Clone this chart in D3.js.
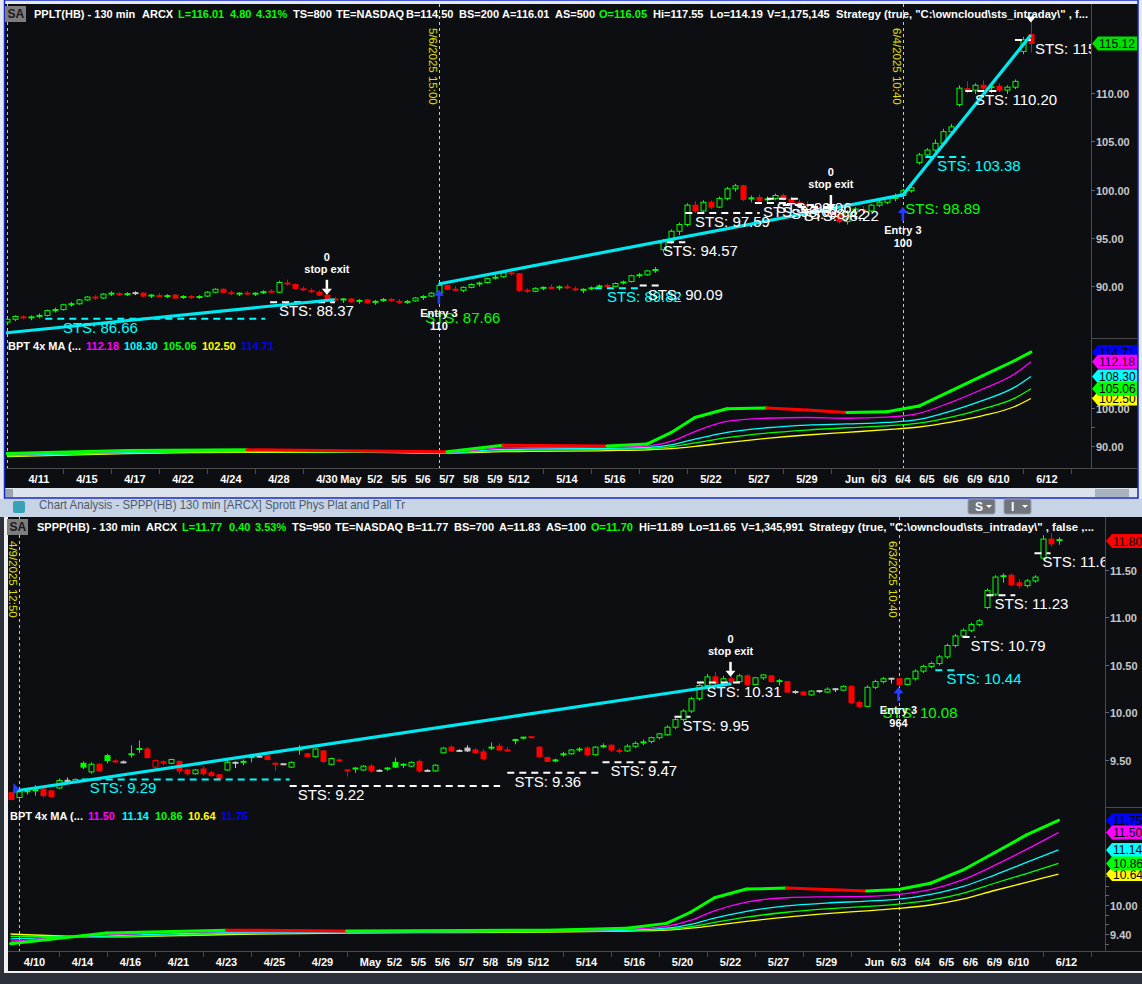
<!DOCTYPE html>
<html><head><meta charset="utf-8">
<script src="https://cdn.jsdelivr.net/npm/d3@7/dist/d3.min.js"></script>
<style>html,body{margin:0;padding:0;background:#c8d5e7;overflow:hidden}
text{font-family:"Liberation Sans",Arial,sans-serif}</style>
</head><body>
<svg id="c" width="1142" height="984"></svg>
<script>
// ================= DATA =================
// PPLT 130-min candles [open, high, low, close]; bar 0 = 4/9 last bar
const ppltFirstBar = 0;
const pplt = [
[86.3,86.7,86.1,86.6],[86.6,87.0,86.4,86.9],[86.9,87.0,86.6,86.7],[86.7,87.0,86.5,86.9],[86.9,87.2,86.7,87.0],
[87.0,87.6,86.9,87.5],[87.5,87.8,87.3,87.6],[87.6,88.2,87.5,88.1],[88.1,88.4,87.9,88.2],[88.2,88.7,88.1,88.6],
[88.6,89.0,88.5,88.9],[88.9,89.1,88.6,88.8],[88.8,89.3,88.7,89.2],[89.2,89.5,89.0,89.3],[89.3,89.4,89.0,89.1],
[89.1,89.4,89.0,89.3],[89.3,89.5,89.1,89.3],[89.3,89.4,88.9,89.0],[89.0,89.2,88.8,89.1],[89.1,89.3,88.9,88.9],
[88.9,89.2,88.8,89.1],[89.1,89.2,88.7,88.8],[88.8,89.1,88.7,89.0],[89.0,89.1,88.7,88.8],[88.8,89.1,88.7,89.0],
[89.0,89.5,88.9,89.4],[89.4,89.8,89.3,89.7],[89.7,89.8,89.3,89.4],[89.4,89.6,89.1,89.2],[89.2,89.4,89.0,89.3],
[89.3,89.5,89.1,89.2],[89.2,89.4,89.0,89.3],[89.3,89.6,89.2,89.5],[89.5,89.7,89.3,89.4],[89.4,90.6,89.3,90.4],
[90.4,90.7,90.1,90.2],[90.2,90.3,89.7,89.8],[89.8,90.0,89.5,89.6],[89.6,89.8,89.3,89.4],[89.4,89.6,89.0,89.1],
[89.1,89.3,88.6,88.7],[88.7,88.9,88.4,88.6],[88.6,88.8,88.3,88.7],[88.7,88.8,88.3,88.4],[88.4,88.7,88.2,88.6],
[88.6,88.7,88.2,88.3],[88.3,88.6,88.1,88.5],[88.5,88.8,88.4,88.7],[88.7,88.8,88.4,88.5],[88.5,88.7,88.2,88.3],
[88.3,88.6,88.2,88.5],[88.5,88.9,88.4,88.8],[88.8,89.1,88.6,89.0],[89.0,89.4,88.9,89.3],[89.3,90.3,89.2,90.1],
[90.1,90.2,89.6,89.7],[89.7,90.0,89.5,89.6],[89.6,90.0,89.4,89.9],[89.9,90.3,89.8,90.2],[90.2,90.5,90.0,90.4],
[90.4,90.9,90.3,90.8],[90.8,91.2,90.7,91.0],[91.0,91.5,90.9,91.4],[91.4,91.6,91.1,91.3],[91.3,91.4,89.4,89.6],
[89.6,89.8,89.3,89.5],[89.5,89.9,89.4,89.8],[89.8,90.0,89.6,89.9],[89.9,90.2,89.7,89.8],[89.8,90.1,89.6,90.0],
[90.0,90.2,89.7,89.8],[89.8,90.0,89.5,89.6],[89.6,89.8,89.3,89.7],[89.7,90.0,89.6,89.9],[89.9,90.2,89.8,90.1],
[90.1,90.3,89.9,90.0],[90.0,90.4,89.9,90.3],[90.3,90.6,90.2,90.5],[90.5,91.2,90.4,91.1],[91.1,91.4,90.9,91.2],
[91.2,91.7,91.1,91.6],[91.6,92.0,91.4,91.8],[93.8,94.9,93.5,94.7],[94.7,95.9,94.4,95.7],[95.7,96.6,95.3,96.4],
[96.4,98.6,96.2,98.4],[98.4,98.8,97.6,97.8],[97.8,98.9,97.7,98.7],[98.7,98.9,98.0,98.2],[98.2,99.3,98.1,99.1],
[99.1,100.3,98.9,100.1],[100.1,100.6,99.8,100.4],[100.4,100.5,98.8,99.0],[99.0,99.4,98.7,99.2],[99.2,99.5,98.8,98.9],
[98.9,99.3,98.7,99.1],[99.1,99.6,98.9,99.4],[99.4,99.6,98.9,99.0],[99.0,99.3,98.6,98.7],[98.7,99.0,98.3,98.5],
[98.5,98.8,98.1,98.3],[98.3,98.6,97.9,98.0],[98.0,98.3,97.5,97.7],[97.7,98.0,97.2,97.4],[97.4,97.6,96.5,96.7],
[96.7,97.9,96.4,97.7],[97.7,98.2,97.4,98.0],[98.0,98.3,97.6,97.8],[97.8,98.5,97.7,98.4],[98.4,98.9,98.2,98.7],
[98.7,99.3,98.5,99.1],[99.1,99.6,98.8,99.4],[99.4,100.1,99.2,99.9],[99.9,100.4,99.7,100.2],[102.8,103.8,102.6,103.6],
[103.6,104.3,103.3,104.1],[104.1,105.2,103.9,104.8],[104.8,106.3,104.6,106.0],[106.0,106.8,105.7,106.5],[108.8,110.8,108.6,110.5],
[110.5,111.2,110.0,110.3],[110.3,111.0,109.9,110.8],[110.8,111.3,110.3,110.5],[110.5,110.9,110.0,110.7],[110.7,111.0,110.1,110.3],
[110.3,110.8,109.9,110.6],[110.6,111.4,110.4,111.2],[114.3,115.8,114.0,115.5],[116.05,117.55,114.19,115.12]
];
// SPPP 130-min candles [open, high, low, close]; bar -2 = 4/9 first bar
const spppFirstBar = -2;
const sppp = [
[9.15,9.16,9.07,9.08],[9.10,9.18,9.07,9.16],[9.16,9.19,9.13,9.17],[9.17,9.23,9.12,9.18],[9.19,9.20,9.10,9.12],
[9.17,9.18,9.10,9.11],[9.20,9.30,9.19,9.28],[9.27,9.31,9.24,9.28],[9.26,9.30,9.25,9.29],[9.46,9.48,9.40,9.42],
[9.37,9.47,9.35,9.45],[9.45,9.46,9.37,9.38],[9.54,9.56,9.46,9.49],[9.49,9.50,9.46,9.47],[9.47,9.49,9.46,9.47],
[9.55,9.65,9.52,9.56],[9.60,9.70,9.57,9.62],[9.61,9.63,9.51,9.52],[9.42,9.50,9.39,9.49],[9.47,9.49,9.44,9.47],
[9.46,9.51,9.45,9.50],[9.48,9.49,9.35,9.38],[9.39,9.40,9.33,9.35],[9.35,9.40,9.34,9.39],[9.40,9.43,9.33,9.35],
[9.36,9.38,9.32,9.33],[9.34,9.35,9.29,9.30],[9.39,9.50,9.38,9.47],[9.46,9.48,9.41,9.47],[9.47,9.50,9.44,9.48],
[9.52,9.56,9.47,9.53],[9.53,9.54,9.52,9.53],[9.54,9.55,9.49,9.50],[9.46,9.47,9.38,9.45],[9.45,9.46,9.44,9.45],
[9.42,9.48,9.41,9.47],[9.60,9.65,9.55,9.61],[9.56,9.57,9.52,9.53],[9.53,9.62,9.52,9.61],[9.59,9.60,9.46,9.48],
[9.45,9.52,9.44,9.51],[9.50,9.51,9.47,9.48],[9.39,9.40,9.32,9.38],[9.40,9.42,9.36,9.41],[9.39,9.44,9.38,9.43],
[9.43,9.45,9.36,9.38],[9.38,9.40,9.37,9.38],[9.40,9.42,9.38,9.41],[9.47,9.52,9.41,9.42],[9.44,9.46,9.41,9.45],
[9.43,9.48,9.42,9.47],[9.48,9.50,9.36,9.38],[9.38,9.40,9.37,9.38],[9.38,9.45,9.37,9.44],[9.57,9.63,9.56,9.62],
[9.63,9.65,9.58,9.59],[9.59,9.61,9.58,9.59],[9.62,9.65,9.58,9.59],[9.60,9.62,9.56,9.57],[9.58,9.61,9.49,9.51],
[9.62,9.68,9.60,9.63],[9.64,9.67,9.59,9.60],[9.60,9.63,9.59,9.59],[9.70,9.72,9.66,9.71],[9.72,9.74,9.71,9.74],
[9.74,9.74,9.72,9.73],[9.63,9.64,9.52,9.53],[9.52,9.53,9.47,9.48],[9.48,9.51,9.47,9.50],
[9.55,9.58,9.53,9.56],[9.56,9.61,9.55,9.60],[9.60,9.63,9.58,9.61],[9.62,9.64,9.53,9.55],[9.55,9.64,9.54,9.63],
[9.63,9.67,9.62,9.65],[9.65,9.66,9.58,9.60],[9.60,9.62,9.56,9.58],[9.59,9.66,9.58,9.64],[9.64,9.69,9.62,9.67],
[9.67,9.71,9.65,9.69],[9.69,9.74,9.67,9.73],[9.73,9.78,9.71,9.77],[9.76,9.86,9.75,9.84],[9.84,9.94,9.82,9.92],
[9.92,10.03,9.90,10.01],[10.01,10.16,9.99,10.14],[10.14,10.30,10.12,10.28],[10.28,10.40,10.26,10.37],[10.37,10.42,10.28,10.30],
[10.30,10.38,10.27,10.35],[10.35,10.38,10.29,10.32],[10.32,10.40,10.31,10.38],[10.38,10.40,10.27,10.29],[10.29,10.37,10.28,10.36],
[10.36,10.40,10.34,10.39],[10.38,10.39,10.31,10.32],[10.32,10.35,10.28,10.33],[10.32,10.33,10.20,10.21],[10.21,10.23,10.19,10.21],
[10.21,10.22,10.17,10.18],[10.18,10.23,10.17,10.22],[10.22,10.23,10.20,10.22],[10.21,10.26,10.20,10.24],[10.24,10.25,10.21,10.24],
[10.23,10.28,10.22,10.27],[10.27,10.28,10.08,10.10],[10.10,10.12,10.04,10.06],[10.06,10.28,10.05,10.26],[10.26,10.34,10.24,10.32],
[10.32,10.37,10.30,10.35],[10.35,10.36,10.30,10.35],[10.35,10.36,10.27,10.29],[10.29,10.36,10.28,10.35],[10.35,10.45,10.33,10.43],
[10.43,10.50,10.41,10.48],[10.48,10.53,10.46,10.51],[10.51,10.60,10.49,10.58],[10.58,10.72,10.56,10.70],[10.70,10.82,10.68,10.80],
[10.80,10.88,10.78,10.86],[10.86,10.94,10.84,10.92],[10.92,10.98,10.90,10.96],[11.10,11.30,11.08,11.28],[11.24,11.44,11.22,11.42],
[11.42,11.46,11.36,11.44],[11.44,11.46,11.32,11.34],[11.36,11.40,11.30,11.33],[11.33,11.40,11.31,11.38],[11.38,11.44,11.36,11.42],
[11.62,11.86,11.60,11.82],[11.82,11.88,11.74,11.77],[11.82,11.84,11.76,11.80]
];

// Date axis labels and the bar index of the first bar of each labelled day
const ppltDayLabels = ["4/11","4/15","4/17","4/22","4/24","4/28","4/30","May","5/2","5/5","5/6","5/7","5/8","5/9","5/12","5/14","5/16","5/20","5/22","5/27","5/29","Jun","6/3","6/4","6/5","6/6","6/9","6/10","6/12"];
const ppltDayBars   = [4,10,16,22,28,34,40,43,46,49,52,55,58,61,64,70,76,82,88,94,100,106,109,112,115,118,121,124,130];
const ppltTickBars  = [7,13,19,25,31,37,67,73,79,85,91,97,103,109,127,133];
const spppDayLabels = ["4/10","4/14","4/16","4/21","4/23","4/25","4/29","May","5/2","5/5","5/6","5/7","5/8","5/9","5/12","5/14","5/16","5/20","5/22","5/27","5/29","Jun","6/3","6/4","6/5","6/6","6/9","6/10","6/12"];
const spppDayBars   = [1,7,13,19,25,31,37,43,46,49,52,55,58,61,64,70,76,82,88,94,100,106,109,112,115,118,121,124,130];
const spppTickBars  = [4,10,16,22,28,34,40,67,73,79,85,91,97,103,127,133];

// Price axis ticks
const ppltPriceTicks = [90,95,100,105,110];
const ppltIndTicks = [90,100];
const ppltIndMinor = [95,103];
const spppPriceTicks = [9.5,10,10.5,11,11.5];
const spppIndTicks = [9.4,10.0];
const spppIndMinor = [9.2,9.6,9.8,10.2,10.4,10.6];

// BPT 4x MA indicator (knot bar index, value)
const ppltMaBars = [0,15,30,45,55,62,75,80,83,86,90,95,100,105,110,114,118,122,126,128];
const ppltMaTop  = [88.0,88.8,89.0,88.7,88.5,90.2,90.0,90.5,93.5,97.5,99.8,100.0,99.5,98.8,99.0,100.5,104.5,108.5,112.5,114.71];
const ppltMaMag  = [87.8,88.6,88.9,88.6,88.4,89.5,89.7,90.0,91.2,93.8,96.5,97.3,97.5,97.3,97.6,98.6,101.5,105.0,109.0,112.18];
const ppltMaCyan = [87.6,88.4,88.7,88.5,88.3,89.1,89.4,89.6,90.3,91.8,93.6,94.8,95.5,95.8,96.2,97.0,99.2,102.0,105.5,108.30];
const ppltMaGrn  = [87.4,88.2,88.5,88.4,88.2,88.8,89.1,89.3,89.8,90.8,92.2,93.4,94.2,94.8,95.3,96.0,97.6,99.8,102.6,105.06];
const ppltMaYel  = [87.2,88.0,88.3,88.3,88.1,88.5,88.8,89.0,89.3,89.9,90.9,92.0,92.9,93.6,94.3,95.0,96.3,98.0,100.4,102.50];
const spppMaBars = [-2,10,25,40,55,65,75,80,83,86,90,95,100,105,109,113,117,121,125,129];
const spppMaTop  = [9.20,9.42,9.48,9.46,9.47,9.48,9.52,9.62,9.85,10.15,10.33,10.35,10.32,10.29,10.32,10.45,10.72,11.08,11.45,11.75];
const spppMaMag  = [9.25,9.38,9.45,9.45,9.45,9.47,9.50,9.56,9.68,9.88,10.06,10.15,10.17,10.18,10.22,10.32,10.52,10.82,11.15,11.50];
const spppMaCyan = [9.30,9.36,9.43,9.44,9.45,9.46,9.48,9.52,9.60,9.73,9.87,9.98,10.04,10.08,10.12,10.22,10.38,10.62,10.88,11.14];
const spppMaGrn  = [9.35,9.35,9.41,9.43,9.44,9.45,9.47,9.50,9.55,9.64,9.75,9.85,9.92,9.97,10.02,10.10,10.24,10.45,10.65,10.86];
const spppMaYel  = [9.40,9.34,9.39,9.42,9.43,9.44,9.46,9.48,9.52,9.58,9.66,9.75,9.82,9.88,9.93,10.00,10.12,10.30,10.47,10.64];

// Trend lines [bar1, price1, bar2, price2]
const ppltTrend = [[0,85.21,40.8,88.62],[54.1,90.27,112,99.46],[112,99.46,127.9,115.89]];
const spppTrend = [[-1.44,9.168,87.9,10.295]];

// STS stops [startBar, endBar (null = no dashes), value, colour, labelBar]
const ppltSTS = [
 [4.8,32.3,86.66,'c',7.0],[32.9,41,88.37,'w',34],[null,null,87.66,'g',52.3],
 [73.5,79.1,89.82,'c',75],[79.1,81.6,90.09,'w',80.1],[81,84.8,94.57,'w',82],
 [84.8,94.1,97.59,'w',86],[93.5,98,98.62,'w',94.5],[95,99,99.06,'w',96.2],
 [97,101,98.42,'w',98.0],[99,103,98.22,'w',99.6],
 [null,null,98.89,'g',112.3],[114.8,119.8,103.38,'c',116.3],[119.8,124.1,110.20,'w',121],
 [126,128,115.47,'w',128.5]
];
const spppSTS = [
 [6.9,32.9,9.29,'c',7.9],[32.9,59.2,9.22,'w',33.9],[60.1,71.7,9.36,'w',61],
 [72,80.4,9.47,'w',73],[81,83,9.95,'w',82],[83.8,89.2,10.31,'w',85],
 [null,null,10.08,'g',107],[113.6,116,10.44,'c',115],[117,118.6,10.79,'w',118],
 [120,123.6,11.23,'w',121],[126,128,11.67,'w',127]
];
// Strategy events: stop exits [bar, price at arrow tip], entries [bar, price, qty]
const ppltExits = [[40,89.13],[103,97.9]];
const ppltEntries = [[54,89.65,'110'],[112,98.22,'100']];
const spppExits = [[88,10.37]];
const spppEntries = [[109,10.26,'964']];
// signal markers: white down triangle [bar, price], small blue start marker [bar, price]
const ppltSignal = [[128,117.9]];
const spppStart = [[-1.4,9.19]];
// Vertical session markers [bar, label]
const ppltMarks = [[0,''],[54,'5/6/2025 15:00'],[112,'6/4/2025 10:40']];
const spppMarks = [[-1,'4/9/2025 12:50'],[109,'6/3/2025 10:40']];

// Header texts [text, x, colour key]
const ppltHeader = [["PPLT(HB) - 130 min",34,'w'],["ARCX",142,'w'],["L=116.01",178,'g'],["4.80",230,'g'],["4.31%",256,'g'],["TS=800",293,'w'],["TE=NASDAQ",336,'w'],["B=114.50",406,'w'],["BS=200",459,'w'],["A=116.01",502,'w'],["AS=500",555,'w'],["O=116.05",599,'g'],["Hi=117.55",653,'w'],["Lo=114.19",710,'w'],["V=1,175,145",767,'w'],["Strategy (true, \"C:\\owncloud\\sts_intraday\\\" , f...",836,'w']];
const spppHeader = [["SPPP(HB) - 130 min",37,'w'],["ARCX",146,'w'],["L=11.77",182,'g'],["0.40",229,'g'],["3.53%",255,'g'],["TS=950",292,'w'],["TE=NASDAQ",335,'w'],["B=11.77",407,'w'],["BS=700",454,'w'],["A=11.83",499,'w'],["AS=100",546,'w'],["O=11.70",591,'g'],["Hi=11.89",639,'w'],["Lo=11.65",689,'w'],["V=1,345,991",741,'w'],["Strategy (true, \"C:\\owncloud\\sts_intraday\\\" , false ,...",809,'w']];
const ppltMaLegend = [["112.18",'m'],["108.30",'c'],["105.06",'g'],["102.50",'y'],["114.71",'b']];
const spppMaLegend = [["11.50",'m'],["11.14",'c'],["10.86",'g'],["10.64",'y'],["11.75",'b']];
const ppltLast = 115.12, spppLast = 11.80;

// ================= DRAWING =================
const BG = '#0d0e12';
const COL = {w:'#ffffff', g:'#00ff00', c:'#00ffff', m:'#ff00ff', y:'#ffff00', b:'#0000ff', r:'#ff0000'};
const UP = '#00ff00', DN = '#ff0000', GR = '#c8c8c8';
const svg = d3.select('#c');
const defs = svg.append('defs');

svg.append('rect').attr('width',1142).attr('height',984).attr('fill','#c8d5e7');

function panel(o){
  const x = d3.scaleLinear().domain([0,1]).range([o.x0, o.x0+8]);
  const y = d3.scaleLinear().domain(o.pDom).range(o.pRng);
  const yi = d3.scaleLinear().domain(o.iDom).range(o.iRng);
  const cid = 'clip'+o.id;
  defs.append('clipPath').attr('id',cid).append('rect')
    .attr('x',o.left).attr('y',o.top).attr('width',o.axisX-o.left).attr('height',o.axisY-o.top);
  const root = svg.append('g');
  const g = root.append('g').attr('clip-path',`url(#${cid})`);

  o.marks.forEach(([k,lab])=>{
    const xx = Math.round(x(k))+0.5;
    g.append('line').attr('x1',xx).attr('x2',xx).attr('y1',o.top).attr('y2',o.axisY)
      .attr('stroke','#e0e000').attr('stroke-dasharray','3,3');
    if(lab) root.append('text').attr('transform',`translate(${xx-11},${o.top+24}) rotate(90)`)
      .attr('fill','#e0e000').attr('font-size',11.5).text(lab);
  });

  const maLine = (vals)=>d3.line().x((v,i)=>x(o.maBars[i])).y(v=>yi(v)).curve(d3.curveMonotoneX)(vals);
  [[o.ma.yel,COL.y],[o.ma.grn,COL.g],[o.ma.cyan,COL.c],[o.ma.mag,COL.m]].forEach(([v,c])=>{
    g.append('path').attr('d',maLine(v)).attr('fill','none').attr('stroke',c).attr('stroke-width',1.3);
  });
  for(let i=0;i<o.ma.top.length-1;i++){
    const up = o.ma.top[i+1] >= o.ma.top[i];
    g.append('line').attr('x1',x(o.maBars[i])).attr('y1',yi(o.ma.top[i]))
      .attr('x2',x(o.maBars[i+1])).attr('y2',yi(o.ma.top[i+1]))
      .attr('stroke', up? COL.g : COL.r).attr('stroke-width',3).attr('stroke-linecap','round');
  }

  o.candles.forEach((d,i)=>{
    const [op,hi,lo,cl] = d; const k = o.first+i;
    const prev = i>0 ? o.candles[i-1][3] : op;
    const col = cl>prev ? UP : (cl<prev ? DN : GR);
    const cx = Math.round(x(k))+0.5;
    g.append('line').attr('x1',cx).attr('x2',cx).attr('y1',y(hi)).attr('y2',y(lo)).attr('stroke',col);
    const yt = y(Math.max(op,cl)), yb = y(Math.min(op,cl));
    if (yb-yt < 2) {
      g.append('line').attr('x1',cx-3).attr('x2',cx+3).attr('y1',(yt+yb)/2).attr('y2',(yt+yb)/2).attr('stroke',col).attr('stroke-width',2);
    } else {
      g.append('rect').attr('x',cx-2.5).attr('y',yt).attr('width',5).attr('height',yb-yt)
        .attr('fill', cl>op ? BG : col).attr('stroke',col);
    }
  });

  o.sts.forEach(([k1,k2,v,c,kl])=>{
    if(k1!==null) g.append('line').attr('x1',x(k1)).attr('x2',x(k2)).attr('y1',y(v)).attr('y2',y(v))
      .attr('stroke',COL[c]).attr('stroke-width',2).attr('stroke-dasharray','7,5');
  });
  o.trend.forEach(([k1,p1,k2,p2])=>{
    g.append('line').attr('x1',x(k1)).attr('y1',y(p1)).attr('x2',x(k2)).attr('y2',y(p2))
      .attr('stroke','#00e8f0').attr('stroke-width',3.2).attr('stroke-linecap','round');
  });
  o.sts.forEach(([k1,k2,v,c,kl])=>{
    g.append('text').attr('x',x(kl)).attr('y',y(v)+14).attr('fill',COL[c]).attr('font-size',15).text('STS: '+v.toFixed(2));
  });

  o.exits.forEach(([k,p])=>{
    const xx=x(k), yy=y(p);
    g.append('line').attr('x1',xx).attr('x2',xx).attr('y1',yy-15).attr('y2',yy-5).attr('stroke','#fff').attr('stroke-width',2.5);
    g.append('path').attr('d',`M${xx-5},${yy-6}L${xx+5},${yy-6}L${xx},${yy}Z`).attr('fill','#fff');
    g.append('text').attr('x',xx).attr('y',yy-22).attr('fill','#fff').attr('font-size',11).attr('font-weight','bold').attr('text-anchor','middle').text('stop exit');
    g.append('text').attr('x',xx).attr('y',yy-34).attr('fill','#fff').attr('font-size',11).attr('font-weight','bold').attr('text-anchor','middle').text('0');
  });
  o.entries.forEach(([k,p,q])=>{
    const xx=x(k), yy=y(p);
    g.append('line').attr('x1',xx).attr('x2',xx).attr('y1',yy+5).attr('y2',yy+14).attr('stroke','#2a3cff').attr('stroke-width',2.5);
    g.append('path').attr('d',`M${xx-5},${yy+6}L${xx+5},${yy+6}L${xx},${yy}Z`).attr('fill','#2a3cff');
    g.append('text').attr('x',xx).attr('y',yy+27).attr('fill','#fff').attr('font-size',11).attr('font-weight','bold').attr('text-anchor','middle').text('Entry 3');
    g.append('text').attr('x',xx).attr('y',yy+40).attr('fill','#fff').attr('font-size',11).attr('font-weight','bold').attr('text-anchor','middle').text(q);
  });
  (o.signal||[]).forEach(([k,p])=>{
    const xx=x(k), yy=y(p);
    g.append('path').attr('d',`M${xx-5},${yy}L${xx+5},${yy}L${xx},${yy+6}Z`).attr('fill','#fff');
  });
  (o.start||[]).forEach(([k,p])=>{
    const xx=x(k), yy=y(p);
    g.append('path').attr('d',`M${xx-2},${yy-6}L${xx+4},${yy}L${xx-2},${yy+6}Z`).attr('fill','#2a3cff');
  });

  root.append('line').attr('x1',o.left).attr('x2',o.right).attr('y1',o.axisY+0.5).attr('y2',o.axisY+0.5).attr('stroke','#4a4a4a');
  root.append('line').attr('x1',o.axisX+0.5).attr('x2',o.axisX+0.5).attr('y1',o.top).attr('y2',o.axisY).attr('stroke','#4a4a4a');
  root.append('line').attr('x1',o.axisX).attr('x2',o.right).attr('y1',o.sepY+0.5).attr('y2',o.sepY+0.5).attr('stroke','#4a4a4a');

  o.tickBars.forEach(k=>{
    const xx=Math.round(x(k))+0.5;
    root.append('line').attr('x1',xx).attr('x2',xx).attr('y1',o.axisY).attr('y2',o.axisY+6).attr('stroke','#4a4a4a');
  });
  o.dayLabels.forEach((lab,i)=>{
    root.append('text').attr('x',x(o.dayBars[i])).attr('y',o.axisY+15).attr('fill','#fff').attr('font-size',11)
      .attr('font-weight','bold').attr('text-anchor','middle').text(lab);
  });
  const yLab = (scale,v,fmt)=>{
    const yy=Math.round(scale(v))+0.5;
    root.append('line').attr('x1',o.axisX).attr('x2',o.axisX+4).attr('y1',yy).attr('y2',yy).attr('stroke','#666');
    root.append('text').attr('x',o.axisX+5).attr('y',yy+4).attr('fill','#c8c8c8').attr('font-size',11).attr('font-weight','bold').text(fmt(v));
  };
  o.priceTicks.forEach(v=>yLab(y,v,d3.format('.2f')));
  o.indMinor.forEach(v=>{
    const yy=Math.round(yi(v))+0.5;
    root.append('line').attr('x1',o.axisX).attr('x2',o.axisX+4).attr('y1',yy).attr('y2',yy).attr('stroke','#666');
  });
  o.indTicks.forEach(v=>yLab(yi,v,d3.format('.2f')));

  const tag = (yy,val,fill,txt)=>{
    const x0=o.axisX+1, x1=o.right;
    root.append('path').attr('d',`M${x0},${yy}L${x0+6},${yy-7}L${x1},${yy-7}L${x1},${yy+7}L${x0+6},${yy+7}Z`).attr('fill',fill);
    root.append('text').attr('x',x0+7).attr('y',yy+4.5).attr('fill',txt||'#000').attr('font-size',12).text(val);
  };
  tag(y(o.last), d3.format('.2f')(o.last), o.lastCol);
  const L = o.legend;
  [4,0,1,3,2].forEach(j=>{
    const v = +L[j][0];
    tag(yi(v), L[j][0], COL[L[j][1]]);
  });

  root.append('rect').attr('x',o.left-1).attr('y',o.headY-12).attr('width',21).attr('height',16).attr('fill','#7d7d7d');
  root.append('text').attr('x',o.left+1.5).attr('y',o.headY).attr('fill','#1a1a1a').attr('font-size',12).attr('font-weight','bold').text('SA');
  o.header.forEach(([t,xx,c],i)=>{
    const tx = root.append('text').attr('x',xx).attr('y',o.headY).attr('fill',COL[c]).attr('font-size',11).attr('font-weight','bold').text(t);
    if(i===o.header.length-1) tx.attr('textLength',o.headEnd-xx).attr('lengthAdjust','spacingAndGlyphs');
  });
  root.append('text').attr('x',o.left+2).attr('y',o.legY).attr('fill','#fff').attr('font-size',11).attr('font-weight','bold').text('BPT 4x MA (...');
  L.forEach(([t,c],i)=>{
    root.append('text').attr('x',o.legX[i]).attr('y',o.legY).attr('fill',COL[c]).attr('font-size',11).attr('font-weight','bold').text(t);
  });
  return {x,y};
}

// ---------- top window chrome ----------
svg.append('rect').attr('x',0).attr('y',0).attr('width',1142).attr('height',500).attr('fill','#e4e9f1');
svg.append('rect').attr('x',5).attr('y',4).attr('width',1133).attr('height',484).attr('fill',BG);
svg.append('rect').attr('x',5).attr('y',488).attr('width',1133).attr('height',10).attr('fill','#dde3ec');
svg.append('rect').attr('x',5).attr('y',489).attr('width',8).attr('height',8).attr('fill','#9aa3b0');
svg.append('rect').attr('x',1095).attr('y',489).attr('width',34).attr('height',8).attr('fill','#a9b2bf');
svg.append('rect').attr('x',4.5).attr('y',0).attr('width',1133.5).attr('height',498).attr('fill','none').attr('stroke','#1428c8').attr('stroke-width',1.5);

const ppltPanel = panel({id:'t', x0:6.9, left:6, right:1137, top:4, axisX:1091, axisY:468, sepY:338,
  pDom:[90,110], pRng:[286.4,93], iDom:[90,100], iRng:[446,408],
  candles:pplt, first:ppltFirstBar, dayLabels:ppltDayLabels, dayBars:ppltDayBars, tickBars:ppltTickBars,
  priceTicks:ppltPriceTicks, indTicks:ppltIndTicks, indMinor:ppltIndMinor,
  maBars:ppltMaBars, ma:{top:ppltMaTop,mag:ppltMaMag,cyan:ppltMaCyan,grn:ppltMaGrn,yel:ppltMaYel},
  trend:ppltTrend, sts:ppltSTS, exits:ppltExits, entries:ppltEntries, marks:ppltMarks, signal:ppltSignal,
  header:ppltHeader, headY:18, headEnd:1088, legend:ppltMaLegend, legY:350, legX:[86,124,163,202,241],
  last:ppltLast, lastCol:'#00e000'});

// ---------- title bar between windows ----------
svg.append('rect').attr('x',0).attr('y',499).attr('width',1142).attr('height',18).attr('fill','#c7d4e6');
svg.append('rect').attr('x',13).attr('y',501).attr('width',12).attr('height',12).attr('fill','#3aa0b8').attr('rx',2);
svg.append('text').attr('x',39).attr('y',509).attr('fill','#4d5a6e').attr('font-size',13)
  .attr('textLength',366).attr('lengthAdjust','spacingAndGlyphs')
  .text('Chart Analysis - SPPP(HB) 130 min [ARCX] Sprott Phys Plat and Pall Tr');
[[968,'S'],[1004,'I']].forEach(([bx,t])=>{
  svg.append('rect').attr('x',bx).attr('y',499).attr('width',27).attr('height',15).attr('rx',2).attr('fill','#70757d').attr('stroke','#9aa0a8');
  svg.append('text').attr('x',bx+7).attr('y',511).attr('fill','#fff').attr('font-size',12).attr('font-weight','bold').text(t);
  svg.append('path').attr('d',`M${bx+18},${505}L${bx+24},${505}L${bx+21},${508}Z`).attr('fill','#fff');
});

// ---------- bottom window chrome ----------
svg.append('rect').attr('x',0).attr('y',517).attr('width',1142).attr('height',467).attr('fill','#2c3038');
svg.append('rect').attr('x',4).attr('y',517).attr('width',1138).attr('height',456).attr('fill','#f0f0f0');
svg.append('rect').attr('x',8).attr('y',517).attr('width',1134).attr('height',454).attr('fill',BG);

const spppPanel = panel({id:'b', x0:26.5, left:8, right:1142, top:517, axisX:1105, axisY:951, sepY:807,
  pDom:[9.5,11.5], pRng:[759.5,569.5], iDom:[9.4,10.0], iRng:[934,905],
  candles:sppp, first:spppFirstBar, dayLabels:spppDayLabels, dayBars:spppDayBars, tickBars:spppTickBars,
  priceTicks:spppPriceTicks, indTicks:spppIndTicks, indMinor:spppIndMinor,
  maBars:spppMaBars, ma:{top:spppMaTop,mag:spppMaMag,cyan:spppMaCyan,grn:spppMaGrn,yel:spppMaYel},
  trend:spppTrend, sts:spppSTS, exits:spppExits, entries:spppEntries, marks:spppMarks, start:spppStart,
  header:spppHeader, headY:531, headEnd:1094, legend:spppMaLegend, legY:820, legX:[88,122,155,188,221],
  last:spppLast, lastCol:'#ff0000'});
</script>
</body></html>
